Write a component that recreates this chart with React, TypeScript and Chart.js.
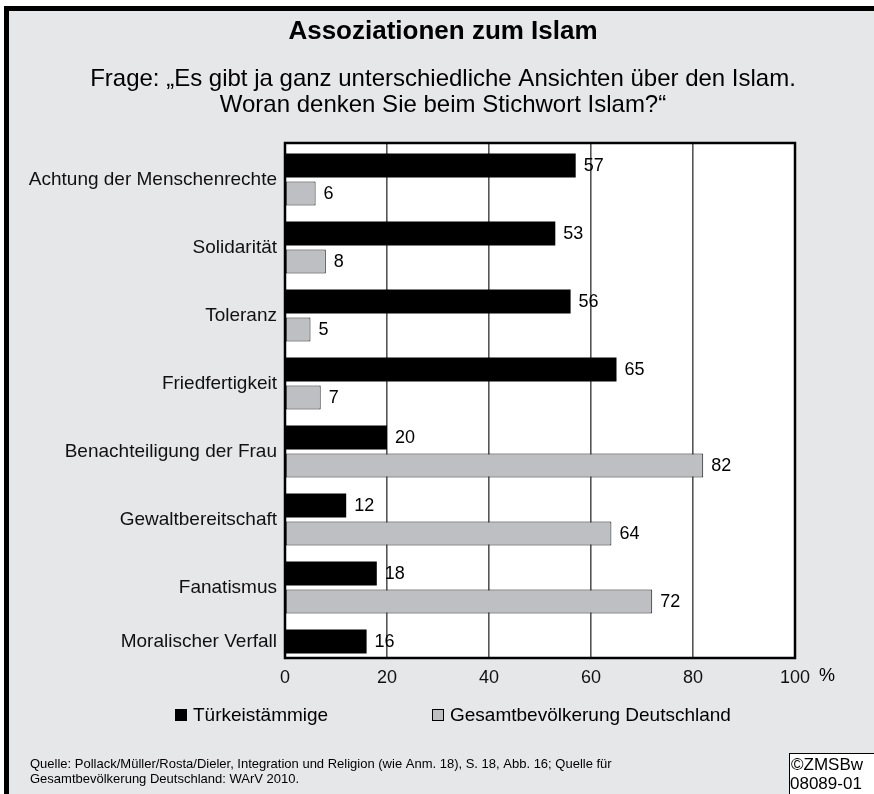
import React, { useEffect, useRef } from "react";
import { Chart, registerables } from "chart.js";

Chart.register(...registerables);

const FONT = "'Liberation Sans', Arial, Helvetica, sans-serif";

const categories = [
  "Achtung der Menschenrechte",
  "Solidarität",
  "Toleranz",
  "Friedfertigkeit",
  "Benachteiligung der Frau",
  "Gewaltbereitschaft",
  "Fanatismus",
  "Moralischer Verfall",
];
const tuerkeistaemmige = [57, 53, 56, 65, 20, 12, 18, 16];
const gesamtbevoelkerung: (number | null)[] = [6, 8, 5, 7, 82, 64, 72, null];
const xTicks = [0, 20, 40, 60, 80, 100];
const seriesLabels = ["Türkeistämmige", "Gesamtbevölkerung Deutschland"];
const seriesColors = ["#000000", "#bebfc3"];
const titleText = "Assoziationen zum Islam";
const subtitleLines = [
  "Frage: „Es gibt ja ganz unterschiedliche Ansichten über den Islam.",
  "Woran denken Sie beim Stichwort Islam?“",
];
const sourceLines = [
  "Quelle: Pollack/Müller/Rosta/Dieler, Integration und Religion (wie Anm. 18), S. 18, Abb. 16; Quelle für",
  "Gesamtbevölkerung Deutschland: WArV 2010.",
];
const copyrightLines = ["©ZMSBw", "08089-01"];
const unitLabel = "%";

const W = 874;
const H = 794;
const BG = "#e6e7e9";
const Y_MIN = -0.537;
const Y_MAX = 7.037;
const CAT_PCT = 0.8235;
const BAR_PCT = 0.857;

const framePlugin = {
  id: "framePlugin",
  beforeDraw(chart: any) {
    const { ctx, chartArea } = chart;
    ctx.save();
    ctx.fillStyle = "#ffffff";
    ctx.fillRect(0, 0, W, H);
    ctx.fillStyle = BG;
    ctx.fillRect(4, 6, W - 4, H - 6);
    ctx.fillStyle = "#000";
    ctx.fillRect(4, 6, W - 4, 5);
    ctx.fillRect(4, 6, 5, H - 6);
    ctx.fillStyle = "#ffffff";
    ctx.fillRect(chartArea.left, chartArea.top, chartArea.right - chartArea.left, chartArea.bottom - chartArea.top);
    ctx.restore();
  },
  afterDatasetsDraw(chart: any) {
    const { ctx, chartArea } = chart;
    ctx.save();
    ctx.strokeStyle = "#000";
    ctx.lineWidth = 2.5;
    ctx.strokeRect(chartArea.left, chartArea.top, chartArea.right - chartArea.left, chartArea.bottom - chartArea.top);
    // value labels
    ctx.fillStyle = "#000";
    ctx.font = `18px ${FONT}`;
    ctx.textAlign = "left";
    ctx.textBaseline = "middle";
    chart.data.datasets.forEach((ds: any, i: number) => {
      const meta = chart.getDatasetMeta(i);
      meta.data.forEach((el: any, j: number) => {
        const raw = ds.data[j];
        if (!raw || raw.x == null) return;
        ctx.fillText(String(raw.x), el.x + 8, el.y + 1);
      });
    });
    ctx.restore();
  },
  afterDraw(chart: any) {
    const { ctx, chartArea } = chart;
    ctx.save();
    ctx.fillStyle = "#000";
    ctx.textBaseline = "middle";
    // title
    ctx.textAlign = "center";
    ctx.font = `bold 26px ${FONT}`;
    ctx.fillText(titleText, 443, 32);
    ctx.font = `24px ${FONT}`;
    ctx.fillText(subtitleLines[0], 443, 79);
    ctx.fillText(subtitleLines[1], 443, 105);
    // unit
    ctx.textAlign = "left";
    ctx.font = `18px ${FONT}`;
    const xs = chart.scales.x;
    ctx.fillText(unitLabel, xs.getPixelForValue(100) + 24, chartArea.bottom + 18);
    // legend
    const legendX = [175, 432];
    ctx.font = `19px ${FONT}`;
    seriesLabels.forEach((lbl, i) => {
      const x = legendX[i];
      ctx.fillStyle = seriesColors[i];
      ctx.fillRect(x, 709, 12, 12);
      ctx.strokeStyle = "#000";
      ctx.lineWidth = 1;
      ctx.strokeRect(x + 0.5, 709.5, 11, 11);
      ctx.fillStyle = "#000";
      ctx.fillText(lbl, x + 18, 716);
    });
    // source
    ctx.font = `13px ${FONT}`;
    ctx.fillText(sourceLines[0], 30, 764);
    ctx.fillText(sourceLines[1], 30, 779);
    // copyright box
    ctx.fillStyle = "#ffffff";
    ctx.fillRect(789, 753, W - 789, H - 753);
    ctx.strokeStyle = "#000";
    ctx.lineWidth = 1;
    ctx.strokeRect(789.5, 753.5, W - 789, H - 753);
    ctx.fillStyle = "#000";
    ctx.font = `17px ${FONT}`;
    ctx.fillText(copyrightLines[0], 791, 765);
    ctx.fillText(copyrightLines[1], 790, 784);
    ctx.restore();
  },
};

export default function App() {
  const ref = useRef<HTMLCanvasElement | null>(null);
  useEffect(() => {
    document.body.style.margin = "0";
    const canvas = ref.current;
    if (!canvas) return;
    const chart = new Chart(canvas, {
      type: "bar",
      data: {
        datasets: [
          {
            label: seriesLabels[0],
            data: tuerkeistaemmige.map((v, i) => ({ x: v, y: i })),
            backgroundColor: seriesColors[0],
            borderWidth: 0,
            categoryPercentage: CAT_PCT,
            barPercentage: BAR_PCT,
          },
          {
            label: seriesLabels[1],
            data: gesamtbevoelkerung
              .map((v, i) => (v == null ? null : { x: v, y: i }))
              .filter((d) => d !== null) as any,
            backgroundColor: seriesColors[1],
            borderColor: "#1a1a1a",
            borderWidth: 1,
            borderSkipped: false,
            categoryPercentage: CAT_PCT,
            barPercentage: BAR_PCT,
          },
        ],
      } as any,
      options: {
        indexAxis: "y",
        responsive: false,
        animation: false,
        devicePixelRatio: 1,
        layout: { padding: { left: 0, top: 143, right: 79, bottom: 0 } },
        plugins: {
          legend: { display: false },
          tooltip: { enabled: false },
          title: { display: false },
        },
        scales: {
          x: {
            type: "linear",
            position: "bottom",
            min: 0,
            max: 100,
            offset: false,
            afterBuildTicks: (s: any) => {
              s.ticks = xTicks.map((v) => ({ value: v }));
              s.min = 0;
              s.max = 100;
            },
            afterFit: (s: any) => {
              s.height = 136;
            },
            grid: {
              color: (c: any) =>
                c.tick && (c.tick.value === 0 || c.tick.value === 100) ? "rgba(0,0,0,0)" : "#555555",
              lineWidth: 1.6,
              drawTicks: false,
              offset: false,
            },
            border: { display: false },
            ticks: {
              font: { family: FONT, size: 18 },
              color: "#111",
              padding: 9,
              maxRotation: 0,
              autoSkip: false,
            },
          },
          y: {
            type: "linear",
            position: "left",
            reverse: true,
            bounds: "data",
            offset: false,
            min: Y_MIN,
            max: Y_MAX,
            afterBuildTicks: (s: any) => {
              s.ticks = categories.map((_, i) => ({ value: i }));
              s.min = Y_MIN;
              s.max = Y_MAX;
            },
            afterFit: (s: any) => {
              s.width = 0;
            },
            grid: { display: false, drawTicks: false, offset: false },
            border: { display: false },
            ticks: { display: false },
          },
          yLabels: {
            type: "linear",
            position: "left",
            reverse: true,
            bounds: "data",
            offset: false,
            min: Y_MIN,
            max: Y_MAX,
            afterBuildTicks: (s: any) => {
              // label sits on the group centre; if a category has only the first bar, on that bar
              s.ticks = categories.map((_, i) => ({
                value: gesamtbevoelkerung[i] == null ? i - CAT_PCT / 4 : i,
              }));
              s.min = Y_MIN;
              s.max = Y_MAX;
            },
            afterFit: (s: any) => {
              s.width = 285;
            },
            grid: { display: false, drawTicks: false, offset: false },
            border: { display: false },
            ticks: {
              callback: (_v: any, idx: number) => categories[idx] ?? "",
              font: { family: FONT, size: 19 },
              color: "#111",
              padding: 8,
              autoSkip: false,
            },
          },
        },
      } as any,
      plugins: [framePlugin],
    });
    return () => chart.destroy();
  }, []);
  return (
    <div style={{ width: W, height: H, position: "relative" }}>
      <canvas ref={ref} width={W} height={H} style={{ display: "block", width: W, height: H }} />
    </div>
  );
}
